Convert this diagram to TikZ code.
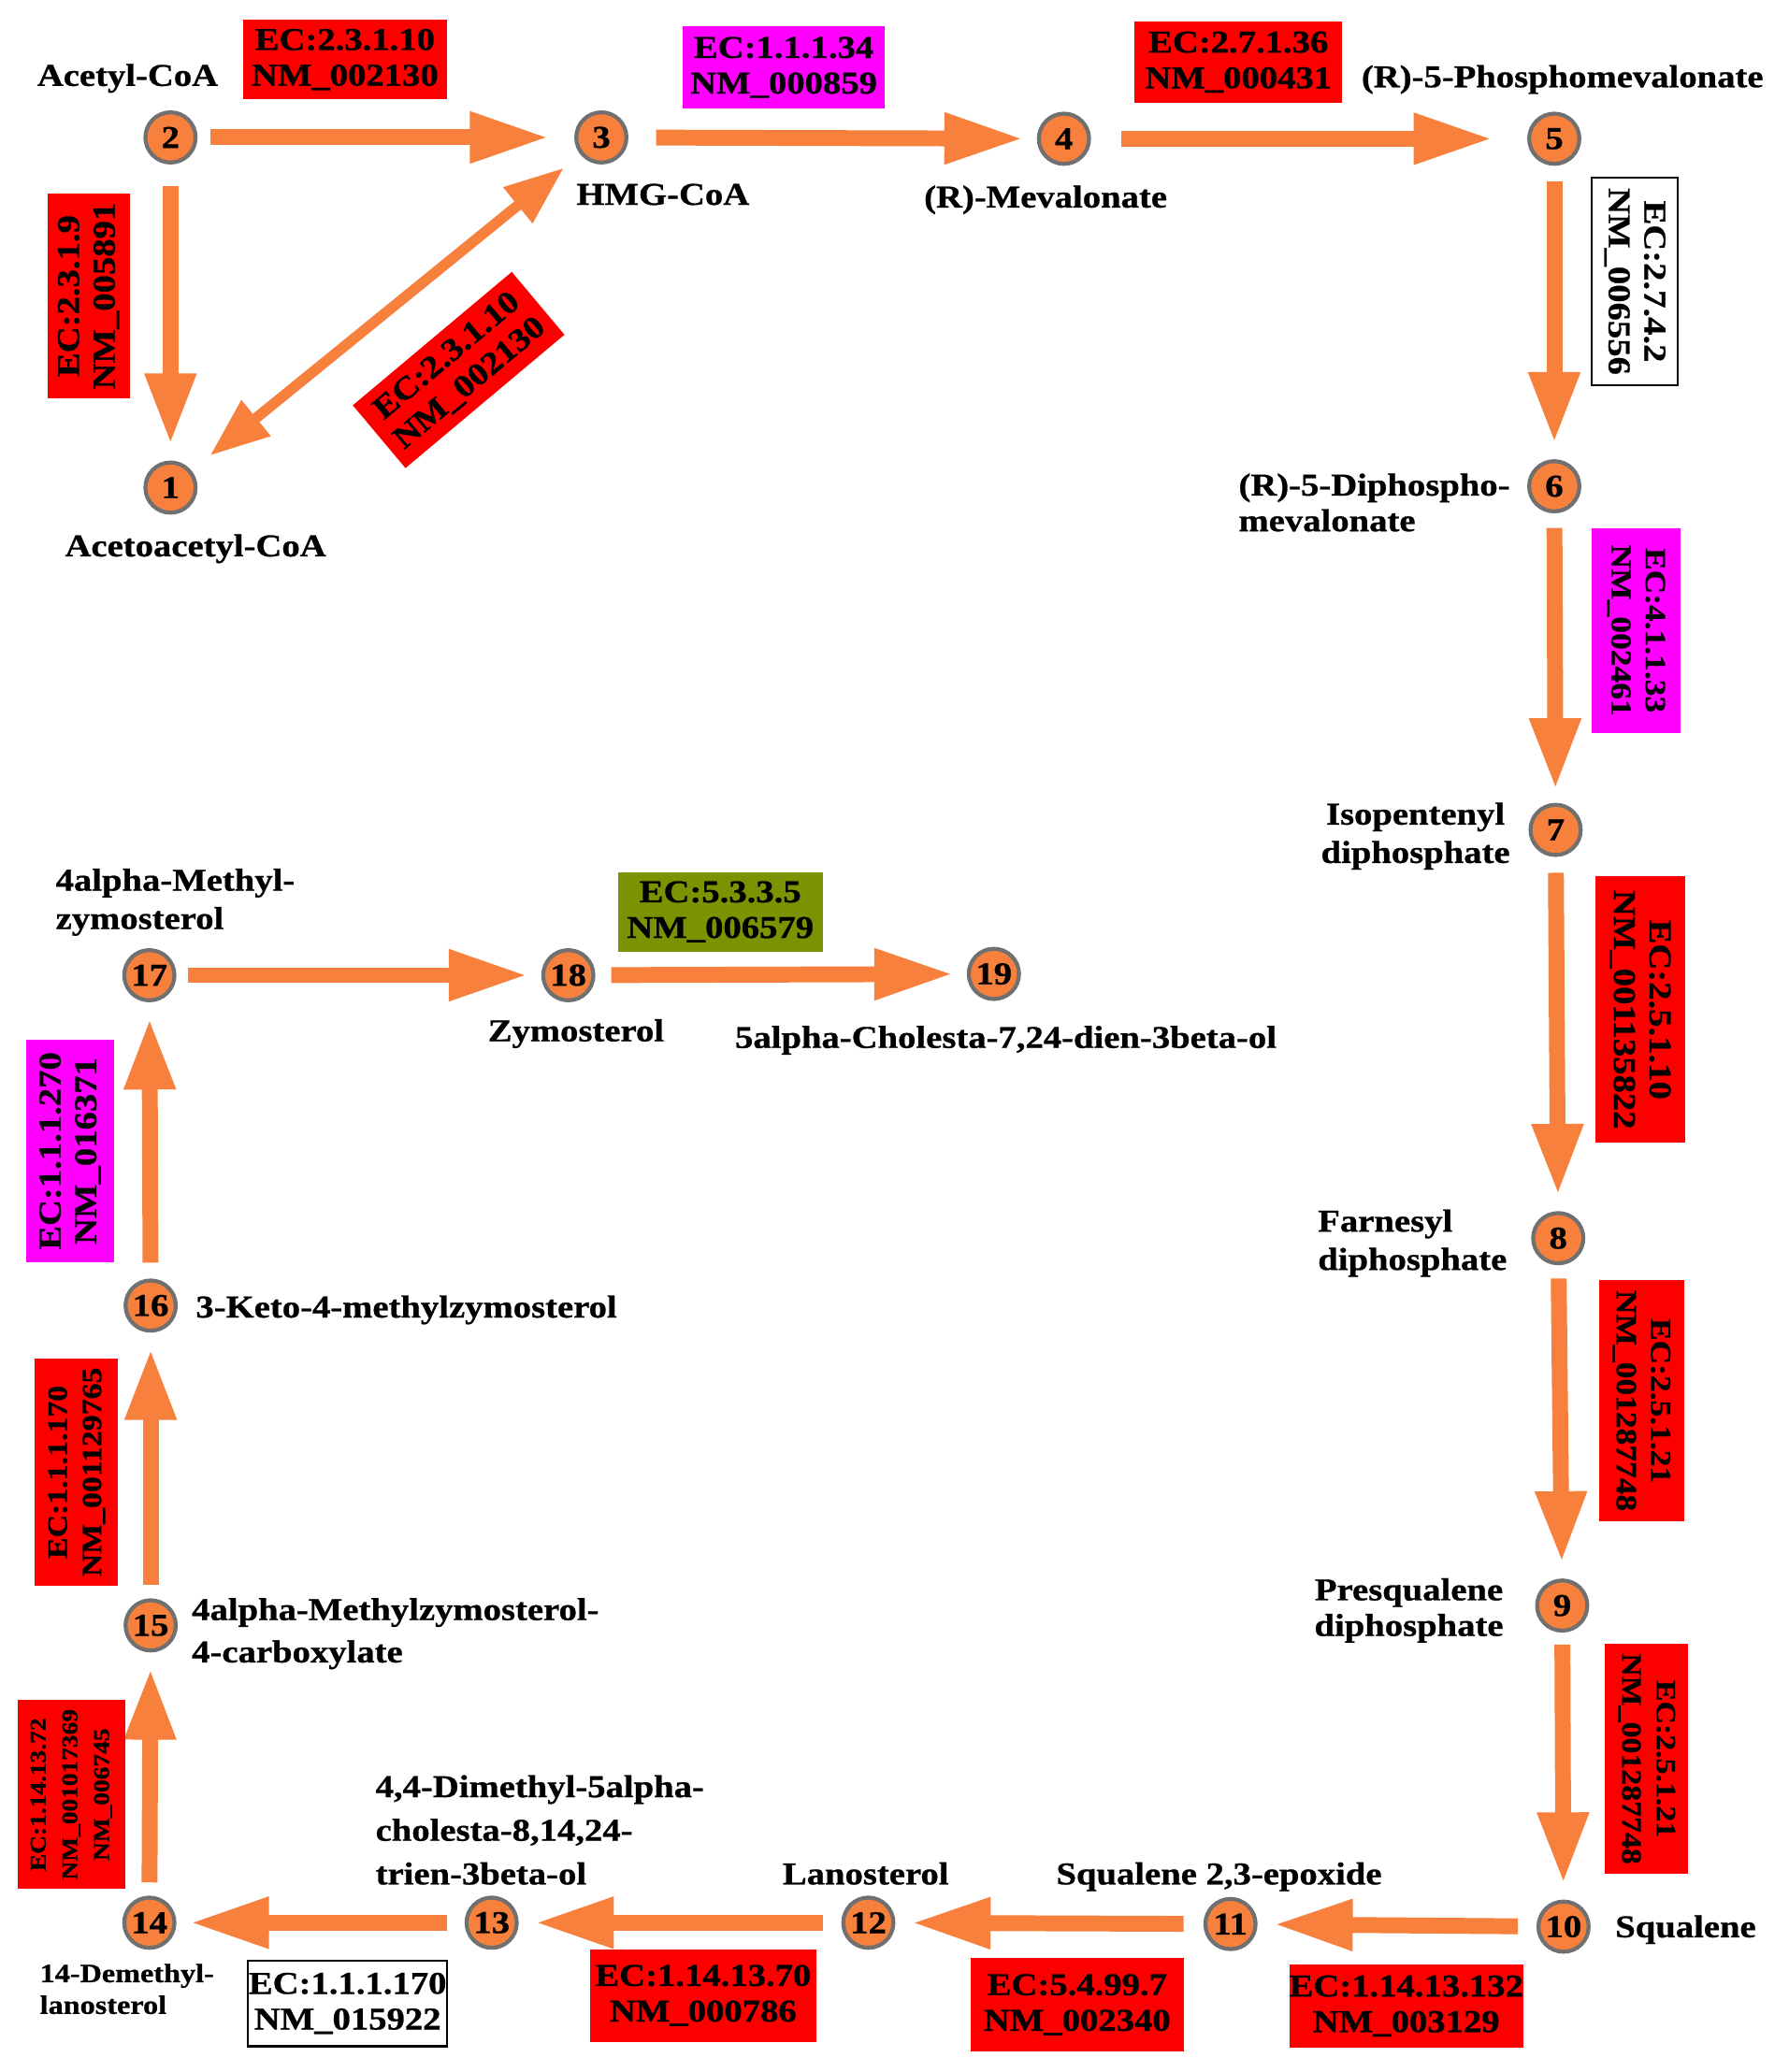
\documentclass[tikz,border=0pt]{standalone}
\usepackage{fontspec}
\setmainfont{Liberation Serif}[FakeStretch=1.14, BoldFeatures={FakeBold=0.8}]
\usetikzlibrary{arrows.meta}
\definecolor{arrorange}{RGB}{246,128,60}
\definecolor{ringgray}{RGB}{112,112,112}
\definecolor{ecred}{RGB}{252,0,0}
\definecolor{ecmag}{RGB}{255,0,255}
\definecolor{ecgreen}{RGB}{124,146,0}
\begin{document}
\begin{tikzpicture}[x=1pt,y=-1pt,
  met/.style={circle, fill=arrorange, draw=ringgray, line width=3pt, minimum size=38pt, inner sep=0pt, font=\fontsize{24}{26}\selectfont\bfseries},
  lbl/.style={inner sep=0pt, font=\fontsize{24}{29}\selectfont\bfseries, align=left, anchor=base west},
  ec/.style={inner sep=0pt, font=\fontsize{24}{27}\selectfont\bfseries, align=center, text=black},
  ecr/.style={ec, fill=ecred},
  ecm/.style={ec, fill=ecmag},
  ecg/.style={ec, fill=ecgreen},
  ecw/.style={ec, fill=white, draw=black, line width=1.5pt},
  flow/.style={draw=arrorange, line width=12pt, line cap=butt, -{Triangle[length=60pt,width=36pt]}, shorten <=12pt, shorten >=12pt},
  vflow/.style={flow, -{Triangle[length=54pt,width=36pt]}},
  dflow/.style={draw=arrorange, line width=8pt, line cap=butt, {Triangle[length=45pt,width=33pt]}-{Triangle[length=45pt,width=33pt]}},
]
\useasboundingbox (0,0) rectangle (1353,1568);

% metabolites
\node[met] (n1) at (129,369) {1};
\node[met] (n2) at (129,104) {2};
\node[met] (n3) at (455,104) {3};
\node[met] (n4) at (805,105) {4};
\node[met] (n5) at (1176,105) {5};
\node[met] (n6) at (1176,368) {6};
\node[met] (n7) at (1177,628) {7};
\node[met] (n8) at (1179,937) {8};
\node[met] (n9) at (1182,1215) {9};
\node[met] (n10) at (1183,1458) {10};
\node[met] (n11) at (931,1456) {11};
\node[met] (n12) at (657,1455) {12};
\node[met] (n13) at (372,1455) {13};
\node[met] (n14) at (113,1455) {14};
\node[met] (n15) at (114,1230) {15};
\node[met] (n16) at (114,988) {16};
\node[met] (n17) at (113,738) {17};
\node[met] (n18) at (430,738) {18};
\node[met] (n19) at (752,737) {19};

% names
\node[lbl] (tA) at (28,65) {Acetyl-CoA};
\node[lbl] (tB) at (49,421) {Acetoacetyl-CoA};
\node[lbl] (tC) at (436,155) {HMG-CoA};
\node[lbl] (tD) at (699,157) {(R)-Mevalonate};
\node[lbl] (tE) at (1030,66) {(R)-5-Phosphomevalonate};
\node[lbl, font=\fontsize{24}{27}\selectfont\bfseries] (tF) at (937,402) {(R)-5-Diphospho-\\mevalonate};
\node[lbl, align=center, anchor=base] (tG) at (1071,653) {Isopentenyl\\diphosphate};
\node[lbl] (tH) at (997,961) {Farnesyl\\diphosphate};
\node[lbl, align=center, anchor=base, font=\fontsize{24}{27}\selectfont\bfseries] (tI) at (1066,1238) {Presqualene\\diphosphate};
\node[lbl] (tJ) at (1222,1466) {Squalene};
\node[lbl] (tK) at (799,1426) {Squalene 2,3-epoxide};
\node[lbl] (tL) at (592,1426) {Lanosterol};
\node[lbl, font=\fontsize{24}{33}\selectfont\bfseries] (tM) at (284,1426) {4,4-Dimethyl-5alpha-\\cholesta-8,14,24-\\trien-3beta-ol};
\node[lbl, font=\fontsize{20}{24}\selectfont\bfseries] (tN) at (30,1524) {14-Demethyl-\\lanosterol};
\node[lbl, font=\fontsize{24}{32}\selectfont\bfseries] (tO) at (145,1258) {4alpha-Methylzymosterol-\\4-carboxylate};
\node[lbl] (tP) at (148,997) {3-Keto-4-methylzymosterol};
\node[lbl] (tQ) at (42,703) {4alpha-Methyl-\\zymosterol};
\node[lbl] (tR) at (369,788) {Zymosterol};
\node[lbl] (tS) at (556,793) {5alpha-Cholesta-7,24-dien-3beta-ol};

% reactions
\draw[flow, shorten <=10pt, shorten >=19pt] (n2) -- (n3);
\draw[flow, shorten <=21pt, shorten >=10pt] (n3) -- (n4);
\draw[flow, shorten <=23pt, shorten >=26pt] (n4) -- (n5);
\draw[vflow] (n5) -- (n6);
\draw[vflow, shorten <=11pt, shorten >=10pt] (n6) -- (n7);
\draw[vflow] (n7) -- (n8);
\draw[vflow, shorten <=10pt] (n8) -- (n9);
\draw[vflow, shorten <=9pt] (n9) -- (n10);
\draw[flow, shorten <=14pt] (n10) -- (n11);
\draw[flow, shorten <=15pt] (n11) -- (n12);
\draw[flow, shorten <=14pt] (n12) -- (n13);
\draw[flow, shorten <=13pt, shorten >=10pt] (n13) -- (n14);
\draw[vflow, shorten <=10pt] (n14) -- (n15);
\draw[vflow, shorten <=10pt] (n15) -- (n16);
\draw[vflow] (n16) -- (n17);
\draw[flow, shorten <=9pt, shorten >=10pt] (n17) -- (n18);
\draw[flow, shorten <=12pt, shorten >=10pt] (n18) -- (n19);
\draw[vflow, shorten <=16pt, shorten >=12pt] (n2) -- (n1);
\draw[dflow, shorten <=18pt, shorten >=16pt] (n1) -- (n3);

% enzyme boxes
\node[ecr, minimum width=154pt, minimum height=60pt] (eA) at (261,45) {EC:2.3.1.10\\NM\_002130};
\node[ecm, minimum width=153pt, minimum height=62pt] (eB) at (593,51) {EC:1.1.1.34\\NM\_000859};
\node[ecr, minimum width=157pt, minimum height=61pt] (eC) at (937,47) {EC:2.7.1.36\\NM\_000431};
\node[ecw, rotate=-90, minimum width=157pt, minimum height=65pt] (eD) at (1237,213) {EC:2.7.4.2\\NM\_006556};
\node[ecm, rotate=-90, minimum width=155pt, minimum height=67pt, font=\fontsize{22}{26}\selectfont\bfseries] (eE) at (1238,477) {EC:4.1.1.33\\NM\_002461};
\node[ecr, rotate=-90, minimum width=202pt, minimum height=68pt] (eF) at (1241,764) {EC:2.5.1.10\\NM\_001135822};
\node[ecr, rotate=-90, minimum width=183pt, minimum height=64pt, font=\fontsize{22}{26}\selectfont\bfseries] (eG) at (1242,1060) {EC:2.5.1.21\\NM\_001287748};
\node[ecr, rotate=-90, minimum width=174pt, minimum height=63pt, font=\fontsize{21}{26}\selectfont\bfseries] (eH) at (1246,1331) {EC:2.5.1.21\\NM\_001287748};
\node[ecr, minimum width=172pt, minimum height=63pt] (eI) at (1064,1518) {EC:1.14.13.132\\NM\_003129};
\node[ecr, minimum width=161pt, minimum height=71pt] (eJ) at (815,1517) {EC:5.4.99.7\\NM\_002340};
\node[ecr, minimum width=171pt, minimum height=70pt] (eK) at (532,1510) {EC:1.14.13.70\\NM\_000786};
\node[ecw, minimum width=151pt, minimum height=65pt] (eL) at (263,1516) {EC:1.1.1.170\\NM\_015922};
\node[ecr, rotate=90, minimum width=143pt, minimum height=81pt, font=\fontsize{17}{24}\selectfont\bfseries] (eM) at (54,1358) {EC:1.14.13.72\\NM\_001017369\\NM\_006745};
\node[ecr, rotate=90, minimum width=172pt, minimum height=63pt, font=\fontsize{21}{26}\selectfont\bfseries] (eN) at (58,1114) {EC:1.1.1.170\\NM\_001129765};
\node[ecm, rotate=90, minimum width=168pt, minimum height=67pt] (eO) at (53,871) {EC:1.1.1.270\\NM\_016371};
\node[ecg, minimum width=155pt, minimum height=60pt] (eP) at (545,690) {EC:5.3.3.5\\NM\_006579};
\node[ecr, rotate=90, minimum width=155pt, minimum height=62pt] (eQ) at (67,224) {EC:2.3.1.9\\NM\_005891};
\node[ecr, rotate=40, minimum width=157pt, minimum height=62pt] (eR) at (347,280) {EC:2.3.1.10\\NM\_002130};
\end{tikzpicture}
\end{document}
